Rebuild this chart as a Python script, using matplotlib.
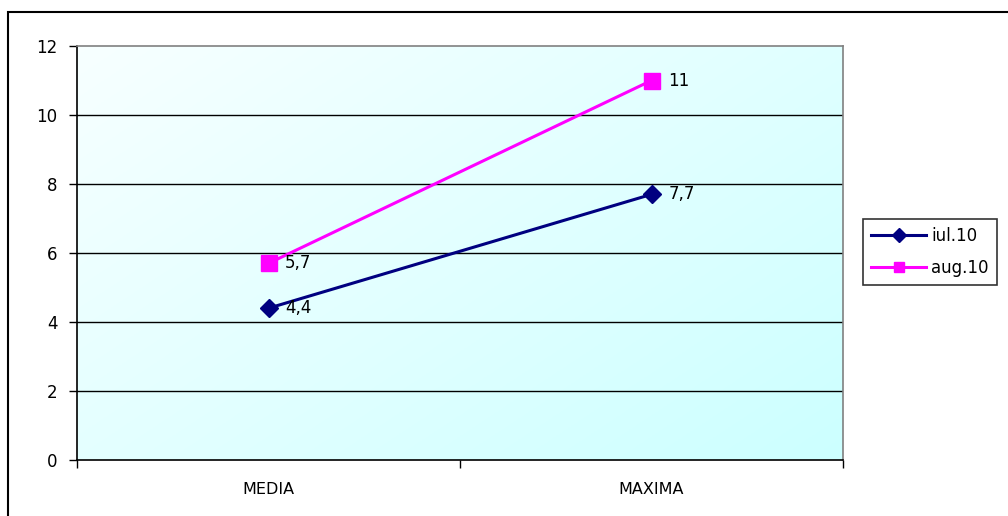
import numpy as np
import matplotlib
matplotlib.use("Agg")
import matplotlib.pyplot as plt
from matplotlib.patches import Rectangle

plt.rcParams['font.family'] = ['DejaVu Sans']

categories = ["MEDIA", "MAXIMA"]
iul_values = [4.4, 7.7]
aug_values = [5.7, 11]
iul_labels = ["4,4", "7,7"]
aug_labels = ["5,7", "11"]
yticks = [0, 2, 4, 6, 8, 10, 12]

W, H = 1008, 516
FS = 12
fig = plt.figure(figsize=(W / 100, H / 100), dpi=100)

# outer chart frame
fig.patches.append(Rectangle((8 / W, -0.1), 1.2, 1 - 12 / H + 0.1,
                             transform=fig.transFigure, fill=False,
                             edgecolor="black", linewidth=1.5))

ax = fig.add_axes([77 / W, 1 - 460 / H, (843 - 77) / W, (460 - 46) / H])
ax.set_xlim(-0.5, 1.5)
ax.set_ylim(0, 12)

# diagonal gradient background: near-white top-left to cyan bottom-right
gx, gy = np.meshgrid(np.linspace(0, 1, 200), np.linspace(0, 1, 200))
t = (gx * 0.55 + gy * 0.45)
c0 = np.array([0.97, 1.0, 1.0])
c1 = np.array([0.80, 1.0, 1.0])
img = c0 + (c1 - c0) * t[..., None]
ax.imshow(img, extent=[-0.5, 1.5, 0, 12], aspect="auto", zorder=0,
          origin="upper")

for y in yticks[1:-1]:
    ax.axhline(y, color="black", linewidth=1, zorder=1)

for s in ["top", "right"]:
    ax.spines[s].set_color("#808080")
    ax.spines[s].set_linewidth(1.2)
for s in ["left", "bottom"]:
    ax.spines[s].set_color("black")
    ax.spines[s].set_linewidth(1.2)

x = np.arange(len(categories))
ax.plot(x, iul_values, color="#000080", linewidth=2.2, marker="D",
        markersize=9, label="iul.10", zorder=3)
ax.plot(x, aug_values, color="#ff00ff", linewidth=2.2, marker="s",
        markersize=11, label="aug.10", zorder=3)

for xi, v, lab in zip(x, iul_values, iul_labels):
    ax.annotate(lab, (xi, v), xytext=(12, 0), textcoords="offset points",
                va="center", ha="left", fontsize=FS)
for xi, v, lab in zip(x, aug_values, aug_labels):
    ax.annotate(lab, (xi, v), xytext=(12, 0), textcoords="offset points",
                va="center", ha="left", fontsize=FS)

ax.set_yticks(yticks)
ax.set_yticklabels([str(v) for v in yticks], fontsize=FS)
ax.tick_params(axis="y", direction="out", length=6, width=1, pad=8)

ax.set_xticks([-0.5, 0.5, 1.5])
ax.set_xticklabels([])
ax.set_xticks(x, minor=True)
ax.set_xticklabels(categories, minor=True, fontsize=FS - 0.5)
ax.tick_params(axis="x", which="major", direction="out", length=6, width=1)
ax.tick_params(axis="x", which="minor", length=0, pad=16)

leg = ax.legend(loc="upper left", bbox_to_anchor=(863 / W, 1 - 219 / H),
                bbox_transform=fig.transFigure, frameon=True, fancybox=False,
                fontsize=FS, handlelength=3.3, borderpad=0.5,
                labelspacing=0.8, handletextpad=0.3, borderaxespad=0)
leg.get_frame().set_edgecolor("black")
leg.get_frame().set_linewidth(1.2)
for h in leg.get_lines():
    h.set_markersize(7)

fig.savefig("out.png", dpi=100)
